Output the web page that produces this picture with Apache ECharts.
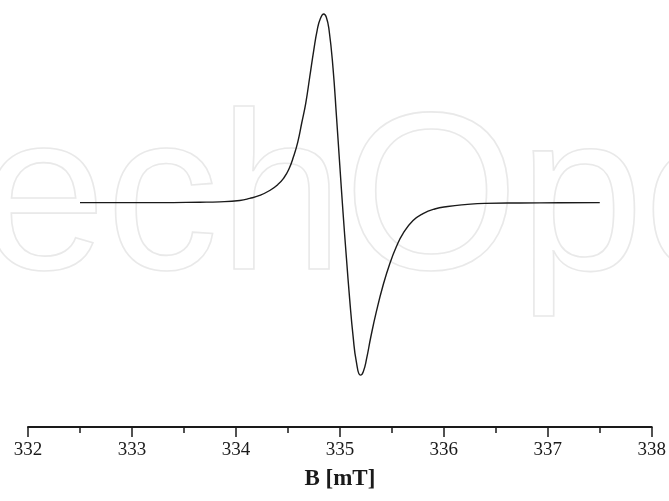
<!DOCTYPE html>
<html>
<head>
<meta charset="utf-8">
<script src="https://cdn.jsdelivr.net/npm/echarts@6/dist/echarts.min.js"></script>
<style>
  html, body { margin: 0; padding: 0; background: #fff; }
  #main { width: 669px; height: 501px; }
</style>
</head>
<body>
<div id="main"></div>
<script>
// magnetic field B [mT]
var fieldB = [332.5, 332.882, 333.267, 333.652, 333.844, 334.037, 334.133, 334.229, 334.325, 334.402,
  334.46, 334.508, 334.556, 334.595, 334.633, 334.672, 334.71, 334.749, 334.782, 334.811,
  334.845, 334.869, 334.896, 334.934, 334.967, 334.999, 335.03, 335.063, 335.095, 335.127,
  335.159, 335.198, 335.225, 335.258, 335.297, 335.352, 335.415, 335.48, 335.544, 335.607,
  335.704, 335.8, 335.912, 336.037, 336.201, 336.393, 336.73, 337.115, 337.5];
// EPR signal (first derivative), arbitrary units
var signal = [0, 0, 0, 0.002, 0.004, 0.011, 0.022, 0.038, 0.064, 0.095,
  0.13, 0.175, 0.247, 0.321, 0.422, 0.528, 0.666, 0.809, 0.915, 0.973,
  1.0, 0.984, 0.915, 0.714, 0.459, 0.199, -0.05, -0.294, -0.517, -0.708,
  -0.846, -0.915, -0.897, -0.825, -0.714, -0.576, -0.44, -0.324, -0.233, -0.164,
  -0.095, -0.058, -0.034, -0.021, -0.011, -0.004, -0.002, -0.001, 0];
var tickLabels = ['332', '333', '334', '335', '336', '337', '338'];

var points = fieldB.map(function (b, i) { return [b, signal[i]]; });

var chart = echarts.init(document.getElementById('main'));
var option = {
  backgroundColor: '#fff',
  animation: false,
  graphic: [{
    type: 'text',
    z: -10,
    left: -270,
    top: 94,
    silent: true,
    style: {
      text: 'IntechOpen',
      font: '225px "Liberation Sans"',
      fill: 'rgba(0,0,0,0)',
      stroke: '#e9e9e9',
      lineWidth: 1.6
    }
  }],
  grid: { left: 28, right: 17, top: 14, bottom: 74 },
  xAxis: {
    type: 'value',
    min: 332,
    max: 338,
    interval: 1,
    name: 'B [mT]',
    nameLocation: 'middle',
    nameGap: 41,
    nameTextStyle: {
      fontFamily: 'Liberation Serif',
      fontWeight: 'bold',
      fontSize: 23,
      color: '#1a1a1a'
    },
    axisLine: { show: true, onZero: false, lineStyle: { color: '#1a1a1a', width: 2 } },
    axisTick: { show: true, length: 10, lineStyle: { color: '#1a1a1a', width: 1.5 } },
    minorTick: { show: true, splitNumber: 2, length: 6, lineStyle: { color: '#1a1a1a', width: 1.5 } },
    splitLine: { show: false },
    axisLabel: {
      margin: 14,
      fontFamily: 'Liberation Serif',
      fontSize: 19,
      color: '#1a1a1a',
      formatter: function (v) {
        var i = Math.round(v - 332);
        return tickLabels[i] !== undefined ? tickLabels[i] : '';
      }
    }
  },
  yAxis: {
    type: 'value',
    min: -1.19,
    max: 1.0,
    show: false
  },
  series: [{
    type: 'line',
    data: points,
    smooth: 0.5,
    clip: false,
    showSymbol: false,
    lineStyle: { color: '#1a1a1a', width: 1.4 }
  }]
};
chart.setOption(option);
</script>
</body>
</html>
